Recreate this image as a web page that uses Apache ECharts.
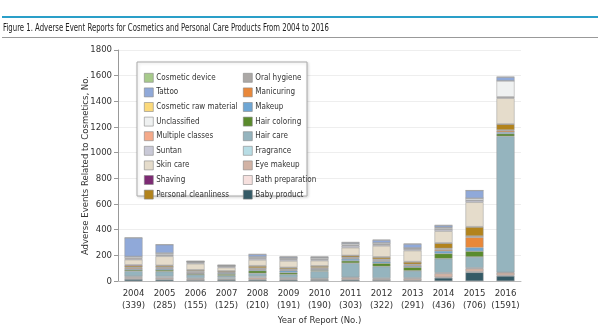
<!DOCTYPE html>
<html><head><meta charset="utf-8">
<script src="https://cdn.jsdelivr.net/npm/echarts@6/dist/echarts.min.js"></script>
<style>html,body{margin:0;padding:0;background:#fff}#c{width:600px;height:331px}</style>
</head><body><div id="c"></div>
<script>
const years = ['2004','2005','2006','2007','2008','2009','2010','2011','2012','2013','2014','2015','2016'];
const totals = [339,285,155,125,210,191,190,303,322,291,436,706,1591];
const yTicks = [0,200,400,600,800,1000,1200,1400,1600,1800];

// stacked bottom -> top
const babyProduct        = [15,12,8,10,10,10,8,10,8,5,25,68,40];
const bathPreparation    = [5,5,3,2,3,3,3,3,3,3,5,5,5];
const eyeMakeup          = [10,10,8,5,15,8,5,12,8,12,30,25,20];
const fragrance          = [8,8,5,10,8,5,5,5,5,5,5,5,3];
const hairCare           = [40,40,25,15,25,25,55,110,90,55,110,85,1060];
const hairColoring       = [10,12,8,12,20,15,8,18,25,28,40,45,20];
const makeup             = [8,10,3,8,8,15,8,15,15,10,20,28,12];
const manicuring         = [8,5,3,3,5,5,5,5,5,8,10,80,12];
const oralHygiene        = [5,8,15,5,8,8,8,8,12,5,10,10,5];
const personalCleanliness= [12,10,8,8,15,10,12,12,15,18,40,70,45];
const shaving            = [6,3,2,2,3,3,2,2,3,3,3,3,2];
const skinCare           = [40,70,47,25,45,50,40,60,85,85,91,190,200];
const suntan             = [8,8,10,8,12,12,10,15,10,12,15,15,8];
const multipleClasses    = [5,4,2,2,3,3,3,4,3,3,3,2,3];
const unclassified       = [10,12,5,5,8,8,10,12,10,6,10,15,125];
const cosmeticRaw        = [2,2,0,1,2,1,1,2,2,1,2,0,1];
const tattoo             = [145,65,3,3,18,8,5,8,20,30,15,60,28];
const cosmeticDevice     = [2,1,0,1,2,2,2,2,3,2,2,0,2];

const seriesDefs = [
  ['Baby product', babyProduct, '#345a66'],
  ['Bath preparation', bathPreparation, '#f6e0de'],
  ['Eye makeup', eyeMakeup, '#d2b3a5'],
  ['Fragrance', fragrance, '#b8dde5'],
  ['Hair care', hairCare, '#95b4be'],
  ['Hair coloring', hairColoring, '#5a8b2c'],
  ['Makeup', makeup, '#6ea6d4'],
  ['Manicuring', manicuring, '#e9883a'],
  ['Oral hygiene', oralHygiene, '#aba8a6'],
  ['Personal cleanliness', personalCleanliness, '#b2831c'],
  ['Shaving', shaving, '#7d2b74'],
  ['Skin care', skinCare, '#e5dccb'],
  ['Suntan', suntan, '#c9c9d7'],
  ['Multiple classes', multipleClasses, '#f5aa8a'],
  ['Unclassified', unclassified, '#eff1f1'],
  ['Cosmetic raw material', cosmeticRaw, '#fbd97b'],
  ['Tattoo', tattoo, '#90a9d9'],
  ['Cosmetic device', cosmeticDevice, '#a7ca8b']
];
const leftCol = ['Cosmetic device','Tattoo','Cosmetic raw material','Unclassified','Multiple classes','Suntan','Skin care','Shaving','Personal cleanliness'];
const rightCol = ['Oral hygiene','Manicuring','Makeup','Hair coloring','Hair care','Fragrance','Eye makeup','Bath preparation','Baby product'];

const FONT = '"DejaVu Sans Condensed","Liberation Sans",sans-serif';
const chart = echarts.init(document.getElementById('c'), null, {renderer:'canvas'});
const legendCommon = {
  orient:'vertical', top:68, itemWidth:9, itemHeight:9, itemGap:5,
  icon:'rect', selectedMode:false,
  textStyle:{fontFamily:FONT, fontSize:8, color:'#333', padding:[0,0,0,-2]},
  itemStyle:{borderColor:'#888', borderWidth:0.6}
};
chart.setOption({
  animation:false,
  textStyle:{fontFamily:FONT},
  graphic:[
    {type:'rect', shape:{x:2,y:16,width:596,height:2}, style:{fill:'#2a9fc8'}},
    {type:'rect', shape:{x:2,y:37,width:596,height:1}, style:{fill:'#999'}},
    {type:'text', x:3, y:23, scaleX:0.77, style:{text:'Figure 1. Adverse Event Reports for Cosmetics and Personal Care Products From 2004 to 2016', font:'10px '+FONT, fill:'#222'}},
    {type:'rect', z:5, shape:{x:137,y:62,width:170,height:134}, style:{fill:'#fff', stroke:'#aaa', lineWidth:1, shadowBlur:3, shadowColor:'rgba(0,0,0,0.15)', shadowOffsetX:1, shadowOffsetY:1}}
  ],
  grid:{left:118, right:79, top:50, bottom:43, containLabel:false},
  legend:[
    Object.assign({left:139, data:leftCol, z:10}, legendCommon),
    Object.assign({left:238, data:rightCol, z:10}, legendCommon)
  ],
  xAxis:{
    type:'category', data:years,
    axisLine:{show:true, lineStyle:{color:'#bbb'}},
    axisTick:{show:false},
    axisLabel:{color:'#333', fontSize:9.5, lineHeight:12, margin:6, interval:0,
      formatter:(v,i)=> v+'\n('+totals[i]+')'},
    name:'Year of Report (No.)', nameLocation:'middle', nameGap:33,
    nameTextStyle:{color:'#333', fontSize:9.5}
  },
  yAxis:{
    type:'value', min:0, max:1800, interval:200,
    axisLine:{show:true, lineStyle:{color:'#999'}},
    axisTick:{show:true, length:4, lineStyle:{color:'#999'}},
    axisLabel:{color:'#333', fontSize:9.5, margin:6,
      formatter:v=> yTicks.includes(v)? String(v):''},
    splitLine:{lineStyle:{color:'#eeeeee'}},
    name:'Adverse Events Related to Cosmetics, No.', nameLocation:'middle', nameGap:27,
    nameMoveOverlap:false,
    nameTextStyle:{color:'#333', fontSize:9.5}
  },
  series: seriesDefs.map(([name,data,color])=>({
    name, type:'bar', stack:'total', data, barWidth:18,
    itemStyle:{color, borderColor:'#999', borderWidth:0.5},
    emphasis:{disabled:true}
  }))
});
</script></body></html>
